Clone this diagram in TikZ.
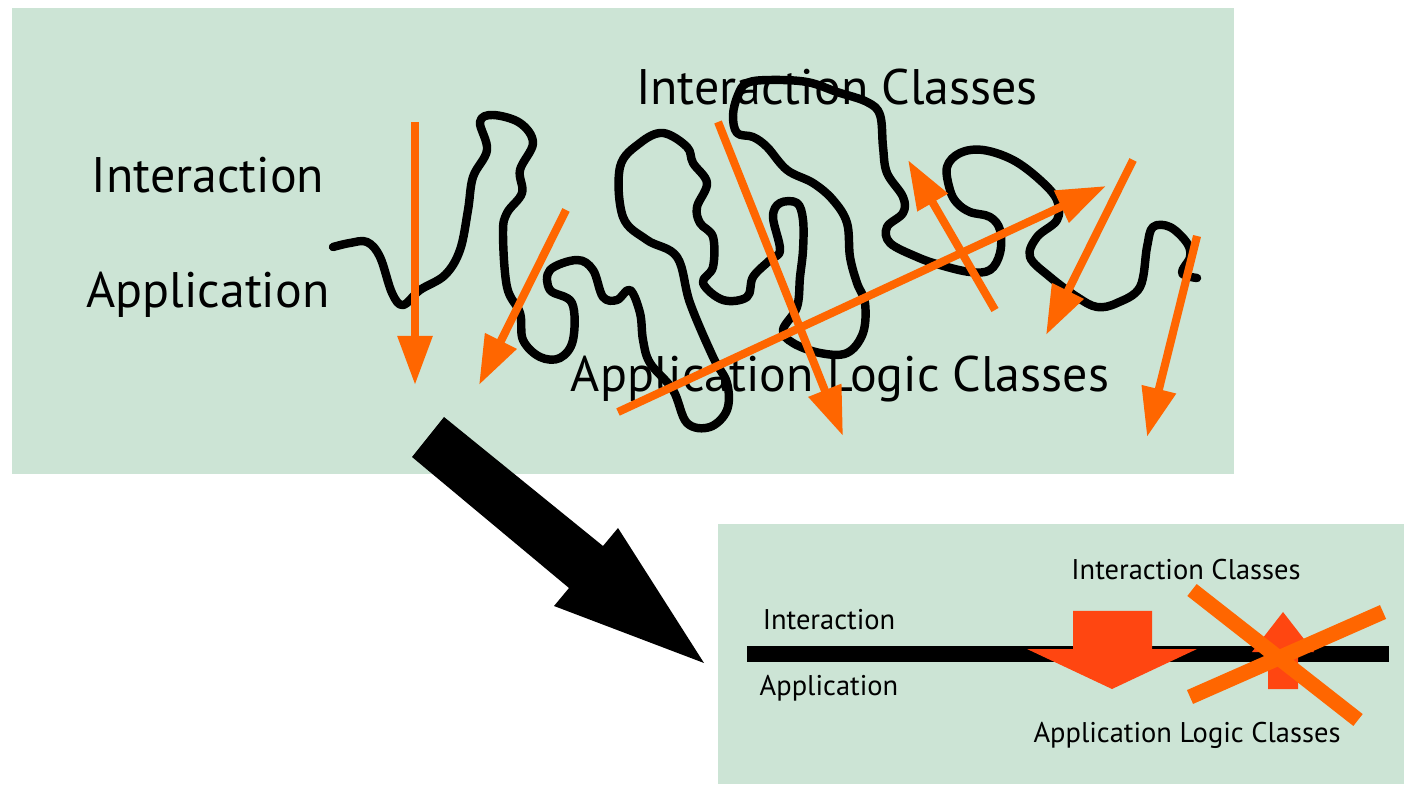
\documentclass[tikz,border=0pt]{standalone}
\usepackage{fontspec}
\setmainfont{PT Sans}
\usetikzlibrary{arrows.meta}
\definecolor{boxgreen}{HTML}{CCE4D5}
\definecolor{arrorange}{HTML}{FF6600}
\definecolor{arrred}{HTML}{FF4611}
\begin{document}
\begin{tikzpicture}[x=0.01cm,y=-0.01cm,
	biglabel/.style={inner sep=0pt,font=\fontsize{14.2}{16}\selectfont},
	smalllabel/.style={inner sep=0pt,font=\fontsize{8.1}{10}\selectfont},
	orangearrow/.style={draw=arrorange,line width=2.3pt,-{Triangle[width=9.5pt,length=14pt]}},
	squiggle/.style={line width=2.4pt,line join=round,line cap=round}]
				\useasboundingbox (0,0) rectangle (1404,786);
				% before
				\fill[boxgreen] (12,8) rectangle (1234,474);
				\node[biglabel] (inter) at (208,175) {Interaction};
				\node[biglabel] (appl) at (208,295) {Application};
				\node[biglabel] (interclasses) at (837,87) {Interaction Classes};
				\node[biglabel] (applclasses) at (840,379) {Application Logic Classes};
				\draw[squiggle] plot[smooth,tension=0.6] coordinates {(333,247) (350,243) (367,242) (380,257) (392,293) (403,305) (420,290) (445,275) (460,250) (468,210) (473,177) (487,150) (480,122) (493,115) (520,123) (533,143) (520,170) (522,193) (507,213) (503,233) (507,287) (520,313) (523,340) (540,357) (560,358) (573,340) (572,303) (550,290) (550,270) (577,260) (593,270) (603,297) (617,300) (630,290) (640,313) (643,340) (650,363) (673,390) (687,423) (710,427) (727,410) (727,383) (713,357) (690,303) (677,257) (647,240) (623,217) (620,167) (640,143) (663,133) (687,147) (693,163) (707,183) (697,207) (700,223) (713,237) (713,267) (703,283) (723,300) (747,297) (753,277) (770,260) (780,250) (773,217) (780,203) (797,203) (803,220) (803,250) (800,277) (797,307) (783,330) (793,343) (820,353) (847,353) (863,333) (865,303) (857,283) (850,257) (847,223) (833,200) (813,183) (787,170) (767,147) (753,137) (737,133) (733,115) (738,95) (747,83) (770,80) (807,82) (837,92) (867,102) (880,115) (883,147) (887,173) (903,197) (903,213) (887,227) (890,243) (917,257) (940,265) (970,272) (990,270) (1000,253) (1000,230) (990,217) (970,212) (957,203) (950,190) (947,167) (960,153) (983,150) (1013,160) (1040,180) (1057,200) (1057,220) (1037,237) (1030,257) (1050,277) (1077,297) (1097,307) (1117,303) (1140,287) (1147,247) (1153,227) (1170,227) (1187,243) (1190,257) (1182,273) (1197,278)};
				\draw[orangearrow] (415,122) -- (415,385);
				\draw[orangearrow] (566,210) -- (479,385);
				\draw[orangearrow] (718,122) -- (843,436);
				\draw[orangearrow] (618,412) -- (1106,186);
				\draw[orangearrow] (995,310) -- (908,160);
				\draw[orangearrow] (1133,160) -- (1046,335);
				\draw[orangearrow] (1197,236) -- (1147,437);
				% big arrow
				\fill (444,417) -- (412,457) -- (569,588) -- (554,606) -- (704,663) -- (618,528) -- (603,546) -- cycle;
				% after
				\fill[boxgreen] (718,524) rectangle (1404,784);
				\node[smalllabel] (interb) at (829,620) {Interaction};
				\node[smalllabel] (applb) at (829,688) {Application};
				\node[smalllabel] (interclassesb) at (1186,570) {Interaction Classes};
				\node[smalllabel] (applclassesb) at (1187,735) {Application Logic Classes};
				\fill (747,646) rectangle (1389,662);
				\fill[arrred] (1073,611) -- (1152,611) -- (1152,649) -- (1197,649) -- (1112,689) -- (1027,649) -- (1073,649) -- cycle;
				\fill[arrred] (1268,689) -- (1298,689) -- (1298,652) -- (1314,652) -- (1283,612) -- (1252,652) -- (1268,652) -- cycle;
				\draw[arrorange,line width=4.3pt] (1192,590) -- (1358,720);
				\draw[arrorange,line width=4.3pt] (1190,697) -- (1383,612);
			\end{tikzpicture}
\end{document}
